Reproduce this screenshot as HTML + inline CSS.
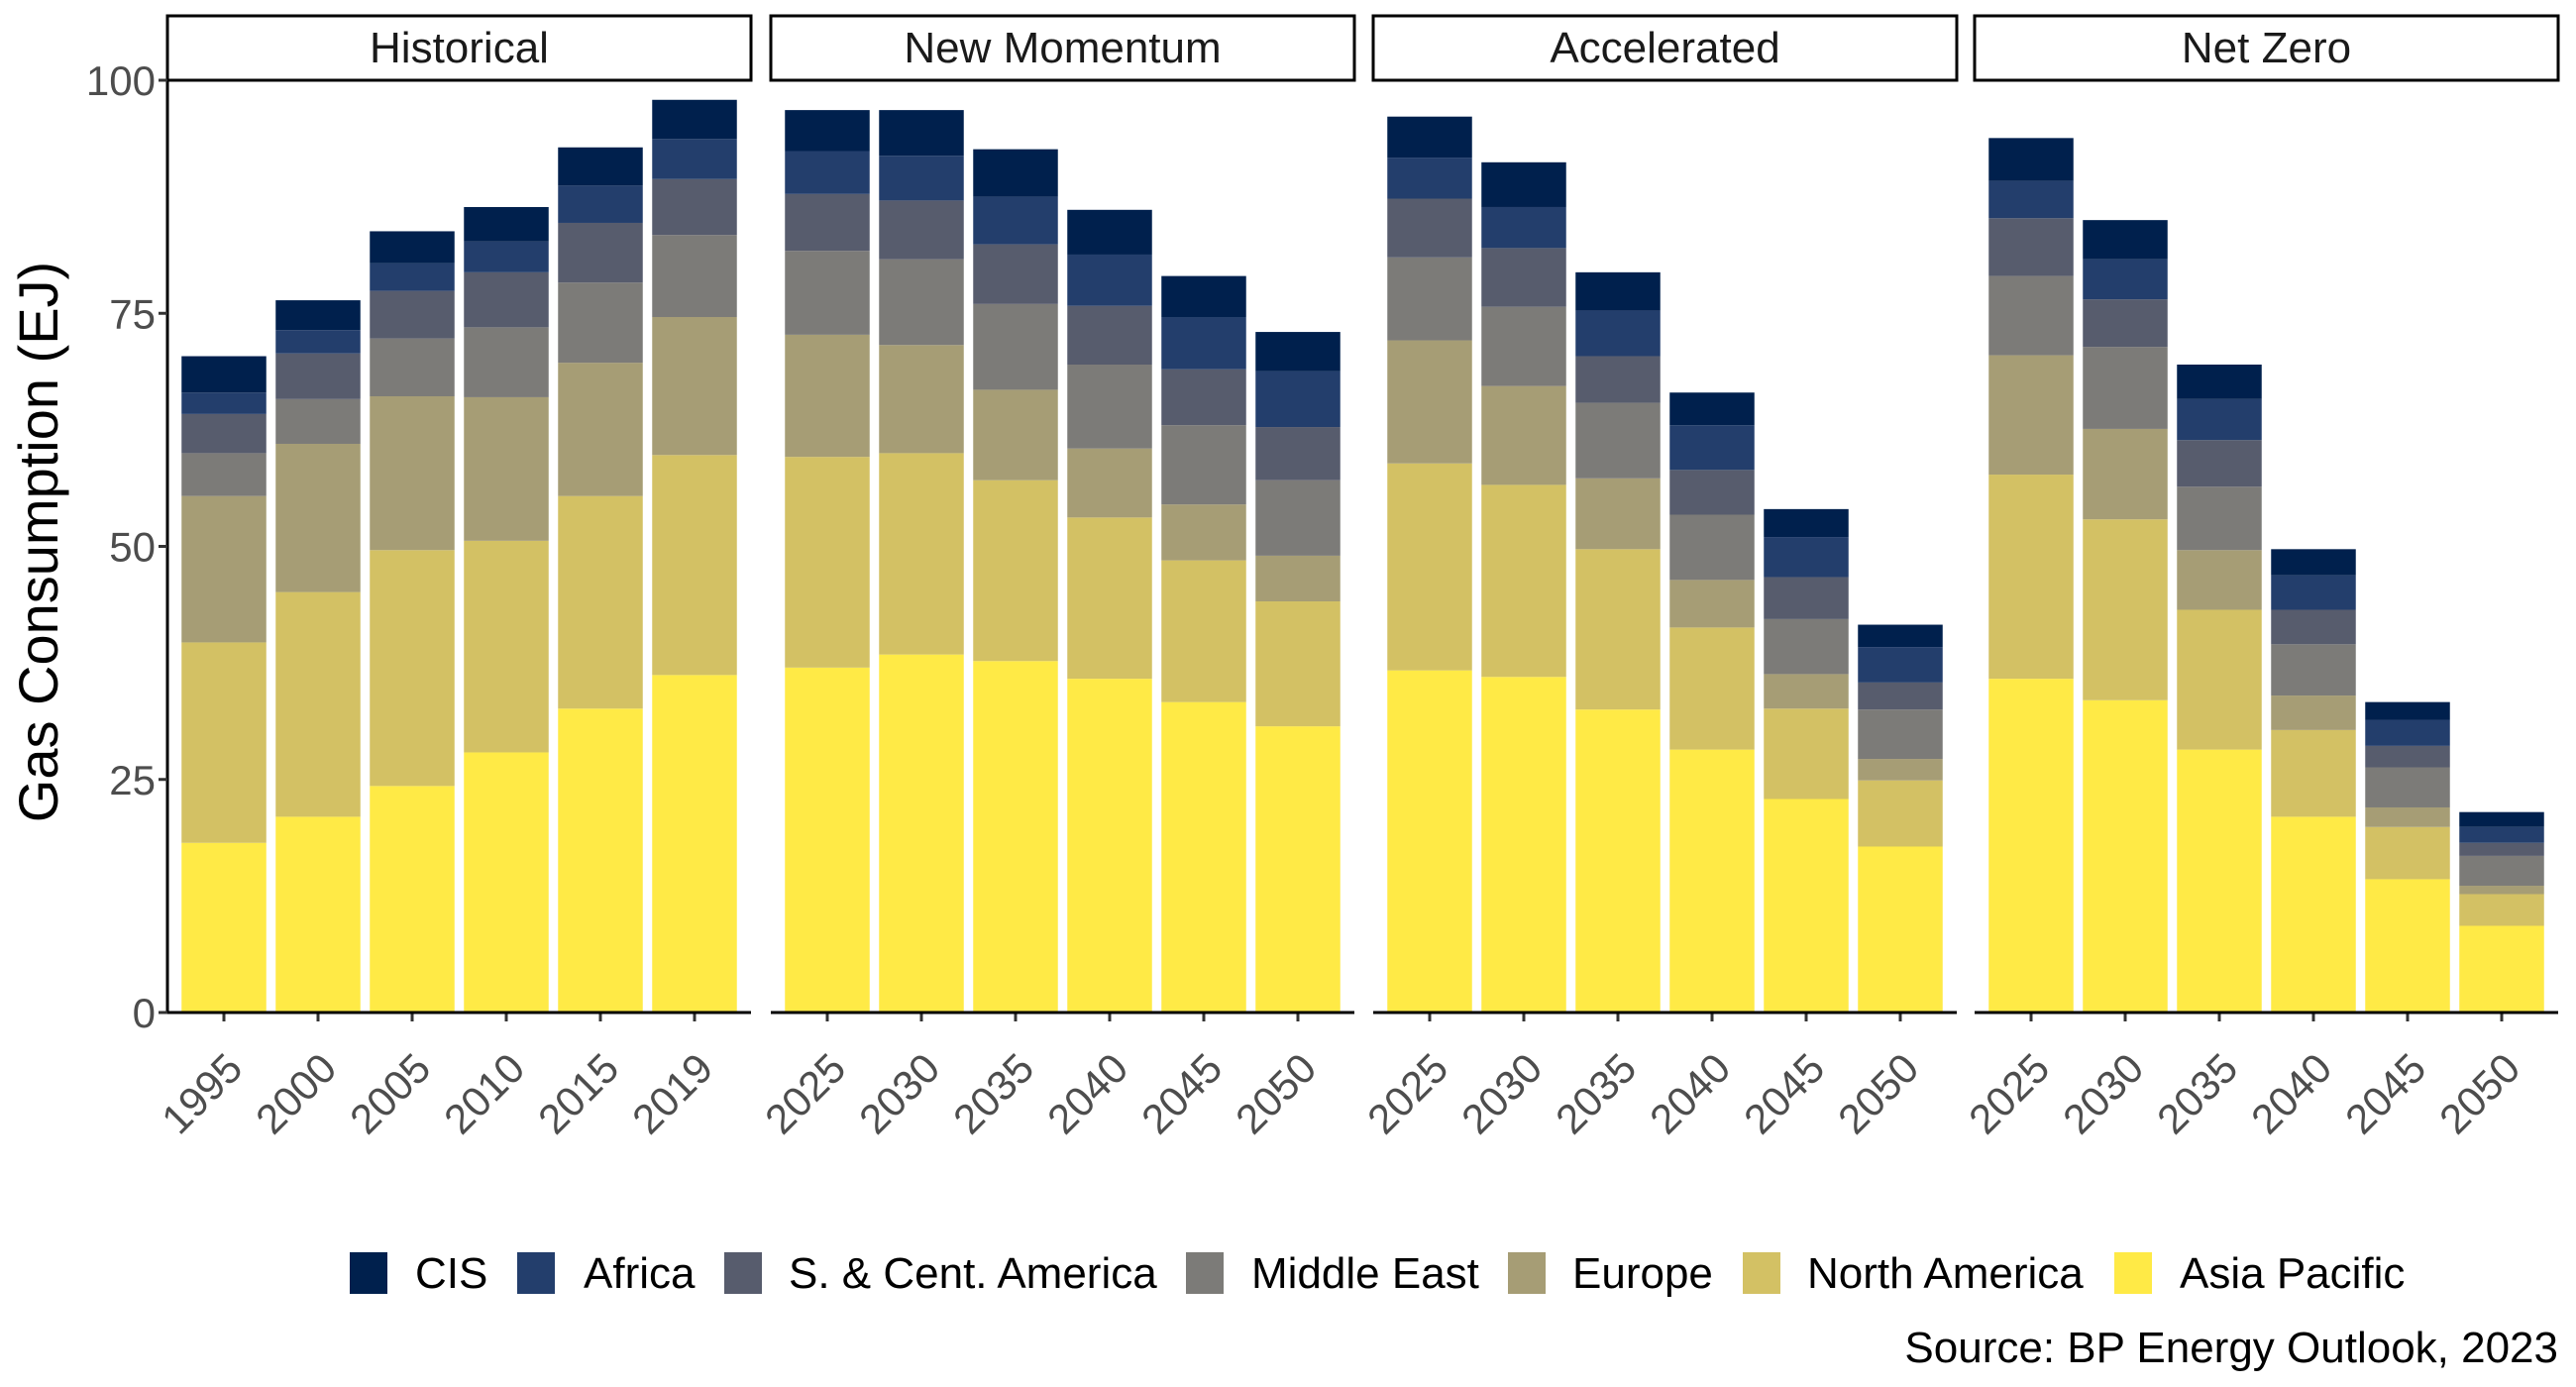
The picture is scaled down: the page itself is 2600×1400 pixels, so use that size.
<!DOCTYPE html>
<html><head><meta charset="utf-8"><style>
html,body{margin:0;padding:0;background:#fff;}
svg{display:block;font-family:"Liberation Sans",Arial,sans-serif;}
</style></head><body>
<svg id="chart" width="2600" height="1400" viewBox="0 0 2600 1400" xmlns="http://www.w3.org/2000/svg">
<g id="plot"></g>
<text x="58" y="547" transform="rotate(-90 58 547)" text-anchor="middle" font-size="56" fill="#000">Gas Consumption (EJ)</text>
<g id="legend"></g>
<text x="2582" y="1375" text-anchor="end" font-size="44" fill="#000">Source: BP Energy Outlook, 2023</text>
</svg>
<script>
const panels = ["Historical","New Momentum","Accelerated","Net Zero"];
const years = [
 ["1995","2000","2005","2010","2015","2019"],
 ["2025","2030","2035","2040","2045","2050"],
 ["2025","2030","2035","2040","2045","2050"],
 ["2025","2030","2035","2040","2045","2050"]
];
const seriesNames = ["Asia Pacific","North America","Europe","Middle East","S. & Cent. America","Africa","CIS"];
const seriesColors = ["#FFEA46","#D3C164","#A69D75","#7C7B78","#575C6D","#233E6C","#00204D"];
// values per panel, per series, per year
const asiaPacific = [[18.2,21.0,24.3,27.9,32.6,36.2],[37.0,38.4,37.7,35.8,33.3,30.7],[36.7,36.0,32.5,28.2,22.9,17.8],[35.8,33.5,28.2,21.0,14.3,9.3]];
const northAmerica = [[21.5,24.1,25.3,22.7,22.8,23.6],[22.6,21.6,19.4,17.3,15.2,13.4],[22.2,20.6,17.2,13.1,9.7,7.1],[21.9,19.4,15.0,9.3,5.6,3.4]];
const europe = [[15.7,15.9,16.5,15.4,14.3,14.8],[13.1,11.6,9.7,7.4,6.0,4.9],[13.2,10.6,7.6,5.1,3.7,2.3],[12.8,9.7,6.4,3.7,2.1,0.9]];
const middleEast = [[4.6,4.8,6.2,7.5,8.6,8.8],[9.0,9.2,9.2,9.0,8.5,8.1],[8.9,8.5,8.1,7.0,5.9,5.3],[8.5,8.8,6.8,5.5,4.3,3.2]];
const sCentAmerica = [[4.2,4.9,5.1,5.9,6.4,6.0],[6.1,6.3,6.4,6.3,6.0,5.7],[6.3,6.3,5.0,4.8,4.5,2.9],[6.2,5.1,5.0,3.7,2.3,1.4]];
const africa = [[2.3,2.5,3.0,3.3,4.0,4.3],[4.6,4.8,5.1,5.5,5.6,6.0],[4.4,4.4,4.9,4.8,4.3,3.8],[4.0,4.3,4.4,3.7,2.8,1.7]];
const cis = [[3.9,3.2,3.4,3.7,4.1,4.2],[4.4,4.9,5.1,4.8,4.4,4.2],[4.4,4.8,4.1,3.5,3.0,2.4],[4.6,4.2,3.7,2.8,1.9,1.6]];
const yTicks = [0,25,50,75,100];
const legendOrder = ["CIS","Africa","S. & Cent. America","Middle East","Europe","North America","Asia Pacific"];

const allSeries = [asiaPacific,northAmerica,europe,middleEast,sCentAmerica,africa,cis];
const NS = "http://www.w3.org/2000/svg";
const panelX0 = [169,778,1386,1993], panelW = 589;
const yTop = 81, yBase = 1022;
function y(v){ return yBase - (v/100)*(yBase - yTop); }
function bandX(p,i){ const u = panelW/6.2; return panelX0[p] + (i+0.6)*u; }
const bw = 0.9*panelW/6.2;
function mk(tag, attrs, parent){ const e=document.createElementNS(NS,tag); for(const k in attrs) e.setAttribute(k,attrs[k]); parent.appendChild(e); return e; }
const plot = document.getElementById('plot');

panels.forEach((pn,p)=>{
  const g = mk('g',{},plot);
  
  
  const s = mk('rect',{x:panelX0[p],y:16,width:panelW,height:yTop-16,fill:'#fff',stroke:'#000','stroke-width':3},g);
  
  
  const st = mk('text',{x:panelX0[p]+panelW/2,y:63,'text-anchor':'middle','font-size':44,fill:'#1a1a1a'},g);
  st.textContent = pn;
  
  
  years[p].forEach((yr,i)=>{
    let cum = 0;
    const cx = bandX(p,i);
    allSeries.forEach((ser,k)=>{
      const v = ser[p][i];
      const r = mk('rect',{x:cx-bw/2,y:y(cum+v),width:bw,height:y(cum)-y(cum+v),fill:seriesColors[k]},g);
      
      
      cum += v;
    });
    mk('line',{x1:cx,x2:cx,y1:yBase,y2:yBase+9,stroke:'#333','stroke-width':3},g);
    const t = mk('text',{transform:`translate(${cx+21},1081) rotate(-45)`,'text-anchor':'end','font-size':42,fill:'#4d4d4d'},g);
    t.textContent = yr;
    
    
  });
  const ax = mk('line',{x1:panelX0[p],x2:panelX0[p]+panelW,y1:yBase,y2:yBase,stroke:'#000','stroke-width':3},g);
  
  
});
const ya = mk('line',{x1:169,x2:169,y1:yTop,y2:yBase+1.5,stroke:'#000','stroke-width':3},plot);


yTicks.forEach(v=>{
  mk('line',{x1:160,x2:169,y1:y(v),y2:y(v),stroke:'#333','stroke-width':3},plot);
  const t = mk('text',{x:157,y:y(v)+15,'text-anchor':'end','font-size':42,fill:'#4d4d4d'},plot);
  t.textContent = v;
  
  
});
const leg = document.getElementById('legend');
const legSq = [353,522,731,1197,1522,1759,2134];
const legTx = [419,589,796,1263,1587,1824,2200];
legendOrder.forEach((nm,j)=>{
  const k = seriesNames.indexOf(nm);
  const g = mk('g',{},leg);
  
  
  mk('rect',{x:legSq[j],y:1264,width:38,height:42,fill:seriesColors[k]},g);
  const t = mk('text',{x:legTx[j],y:1300,'font-size':44,fill:'#000'},g);
  t.textContent = nm;
});
</script>
</body></html>
